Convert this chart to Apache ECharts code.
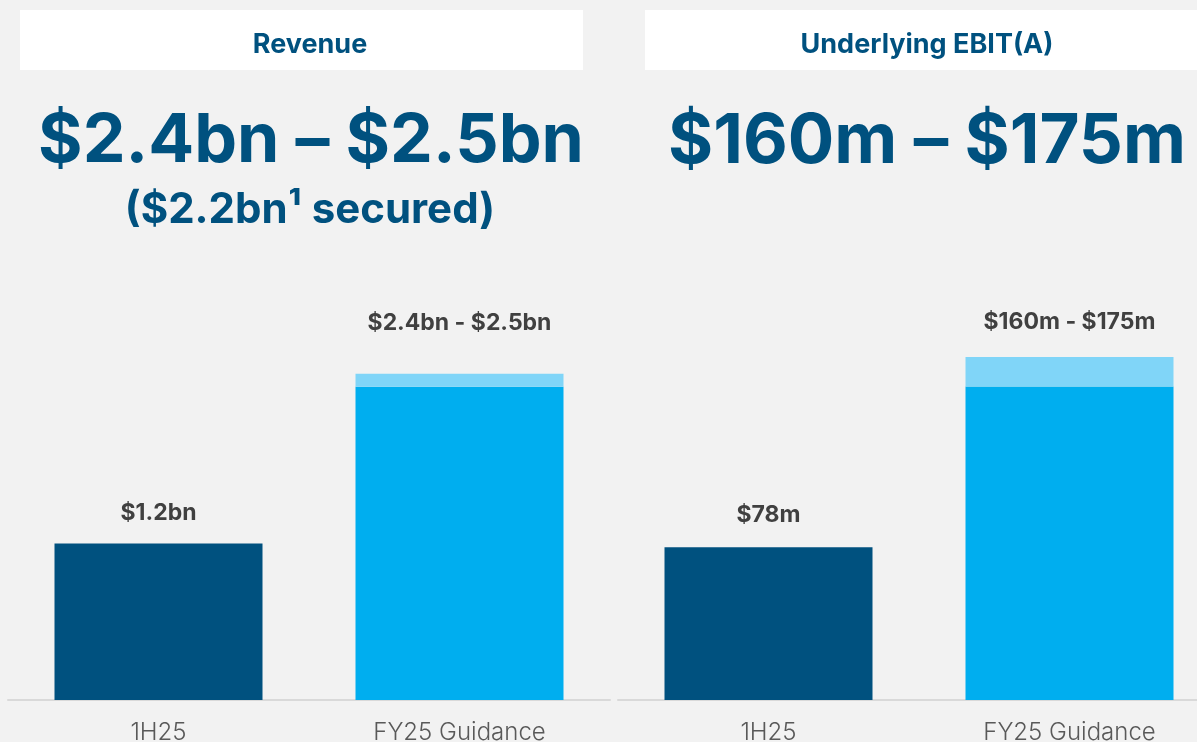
<!DOCTYPE html>
<html>
<head>
<meta charset="utf-8">
<script src="https://cdn.jsdelivr.net/npm/echarts@6/dist/echarts.min.js"></script>
<style>
  html, body { margin: 0; padding: 0; background: #f2f2f2; }
  #main { width: 1197px; height: 742px; }
</style>
</head>
<body>
<div id="main"></div>
<script>
// categories shared by both panels
const categories = ["1H25", "FY25 Guidance"];

// revenue ($bn): 1H25 actual, FY25 guidance low, FY25 guidance high
const revenueLow = [1.2, 2.4];
const revenueHigh = [null, 2.5];
const revenueLabels = ["$1.2bn", "$2.4bn - $2.5bn"];

// underlying EBIT(A) ($m)
const ebitLow = [78, 160];
const ebitHigh = [null, 175];
const ebitLabels = ["$78m", "$160m - $175m"];

const panelTitles = ["Revenue", "Underlying EBIT(A)"];
const headline = ["$2.4bn \u2013 $2.5bn", "$160m \u2013 $175m"];
const subHeadline = "($2.2bn\u00b9 secured)";

const DARK = "#00517f";
const BRIGHT = "#00aeef";
const LIGHT = "#80d5f8";
const FONT = "Inter, 'Open Sans', sans-serif";

let chart = echarts.init(document.getElementById("main"));

function labelStyle(distance) {
  return {
    show: true,
    position: "top",
    distance: distance,
    color: "#404040",
    fontFamily: FONT,
    fontWeight: "bold",
    fontSize: 23,
  };
}

// base bars: 1H25 dark, guidance bright; label only on 1H25
function baseData(low, labels, dist) {
  return low.map((v, i) => ({
    value: v,
    itemStyle: { color: i === 0 ? DARK : BRIGHT },
    label: i === 0 ? Object.assign(labelStyle(dist), { formatter: labels[0] }) : { show: false },
  }));
}

// upper part of the guidance range
function rangeData(low, high, labels, dist) {
  return high.map((v, i) => {
    if (v == null) return { value: null };
    return {
      value: v - low[i],
      itemStyle: { color: LIGHT },
      label: Object.assign(labelStyle(dist), { formatter: labels[i] }),
    };
  });
}

function xAxis(gridIndex) {
  return {
    type: "category",
    gridIndex: gridIndex,
    data: categories,
    axisTick: { show: false },
    axisLine: { lineStyle: { color: "#d9d9d9", width: 2 } },
    axisLabel: {
      color: "#595959",
      fontFamily: FONT,
      fontWeight: 300,
      fontSize: 24,
      margin: 21,
    },
  };
}

function yAxis(gridIndex, max) {
  return {
    type: "value",
    gridIndex: gridIndex,
    min: 0,
    max: max,
    show: false,
    splitLine: { show: false },
  };
}

let option = {
  backgroundColor: "#f2f2f2",
  animation: false,
  grid: [
    { left: 8, width: 602, top: 300, height: 400, outerBoundsMode: "none" },
    { left: 618, width: 602, top: 300, height: 400, outerBoundsMode: "none" },
  ],
  xAxis: [xAxis(0), xAxis(1)],
  yAxis: [yAxis(0, 3.065), yAxis(1, 204.1)],
  graphic: [
    { type: "rect", shape: { x: 20, y: 10, width: 563, height: 60 }, style: { fill: "#ffffff" } },
    { type: "rect", shape: { x: 645, y: 10, width: 564, height: 60 }, style: { fill: "#ffffff" } },
    {
      type: "text", x: 310, y: 45,
      style: { text: panelTitles[0], textAlign: "center", textVerticalAlign: "middle", fill: DARK, font: "bold 27px " + FONT },
    },
    {
      type: "text", x: 927, y: 45,
      style: { text: panelTitles[1], textAlign: "center", textVerticalAlign: "middle", fill: DARK, font: "bold 27px " + FONT },
    },
    {
      type: "text", x: 311, y: 142,
      style: { text: headline[0], textAlign: "center", textVerticalAlign: "middle", fill: DARK, font: "bold 68px " + FONT },
    },
    {
      type: "text", x: 310, y: 210,
      style: { text: subHeadline, textAlign: "center", textVerticalAlign: "middle", fill: DARK, font: "bold 42px " + FONT },
    },
    {
      type: "text", x: 927, y: 142,
      style: { text: headline[1], textAlign: "center", textVerticalAlign: "middle", fill: DARK, font: "bold 69px " + FONT },
    },
  ],
  series: [
    {
      type: "bar", xAxisIndex: 0, yAxisIndex: 0, stack: "rev",
      barWidth: 208, data: baseData(revenueLow, revenueLabels, 19),
    },
    {
      type: "bar", xAxisIndex: 0, yAxisIndex: 0, stack: "rev",
      barWidth: 208, data: rangeData(revenueLow, revenueHigh, revenueLabels, 39),
    },
    {
      type: "bar", xAxisIndex: 1, yAxisIndex: 1, stack: "ebit",
      barWidth: 208, data: baseData(ebitLow, ebitLabels, 21),
    },
    {
      type: "bar", xAxisIndex: 1, yAxisIndex: 1, stack: "ebit",
      barWidth: 208, data: rangeData(ebitLow, ebitHigh, ebitLabels, 23),
    },
  ],
};

option && chart.setOption(option);
</script>
</body>
</html>
